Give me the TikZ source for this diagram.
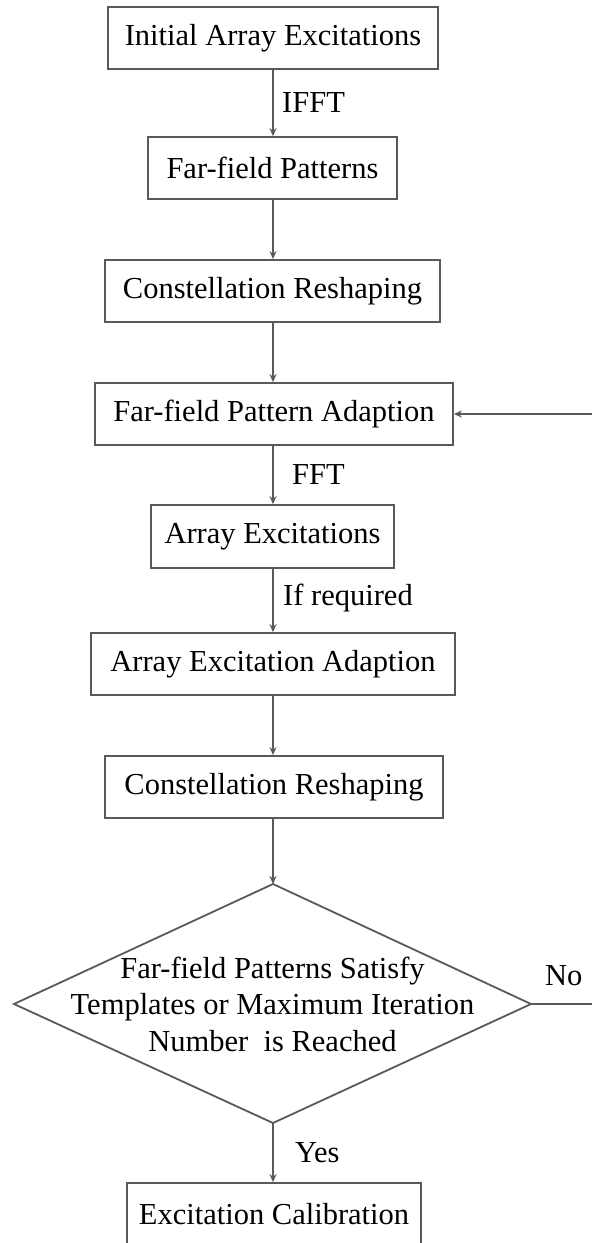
\documentclass[tikz,border=0pt]{standalone}
\usepackage{fontspec}
\setmainfont{Liberation Serif}
\usetikzlibrary{arrows.meta}
\definecolor{ln}{HTML}{595959}
\begin{document}
\begin{tikzpicture}[x=1pt,y=-1pt,
  box/.style={draw=ln,line width=1.8pt,rectangle,minimum height=62pt,inner sep=0pt,font=\fontsize{30.5}{36}\selectfont},
  dtext/.style={inner sep=0pt,align=center,font=\fontsize{30.5}{36.5}\selectfont},
  conn/.style={draw=ln,line width=1.8pt,-{Stealth[length=8pt,width=7pt]}},
  line/.style={draw=ln,line width=1.8pt,line join=miter},
  lbl/.style={font=\fontsize{30.5}{36}\selectfont,anchor=west,inner sep=0pt}]
\useasboundingbox (0,0) rectangle (592,1243);
\node[box,minimum width=330pt] (b1) at (273,38) {Initial Array Excitations};
\node[box,minimum width=249pt] (b2) at (272.5,168) {Far-field Patterns};
\node[box,minimum width=335pt] (b3) at (272.5,291) {Constellation Reshaping};
\node[box,minimum width=358pt] (b4) at (274,414) {Far-field Pattern Adaption};
\node[box,minimum width=243pt,minimum height=63pt] (b5) at (272.5,536.5) {Array Excitations};
\node[box,minimum width=364pt] (b6) at (273,664) {Array Excitation Adaption};
\node[box,minimum width=338pt] (b7) at (274,787) {Constellation Reshaping};
\coordinate (dt) at (273,884);
\coordinate (dl) at (14,1004);
\coordinate (db) at (273,1123);
\coordinate (dr) at (531,1004);
\draw[line] (dt) -- (dr) -- (db) -- (dl) -- cycle;
\node[dtext] (d) at (272.5,1004) {Far-field Patterns Satisfy\\Templates or Maximum Iteration\\Number\ \ is Reached};
\node[box,minimum width=294pt] (b8) at (274,1214) {Excitation Calibration};
\coordinate (r1) at (598,1004);
\coordinate (r2) at (598,414);
\draw[conn] (b1.south -| 273,0) -- (b2.north -| 273,0);
\draw[conn] (b2.south -| 273,0) -- (b3.north -| 273,0);
\draw[conn] (b3.south -| 273,0) -- (b4.north -| 273,0);
\draw[conn] (b4.south -| 273,0) -- (b5.north -| 273,0);
\draw[conn] (b5.south -| 273,0) -- (b6.north -| 273,0);
\draw[conn] (b6.south -| 273,0) -- (b7.north -| 273,0);
\draw[conn] (b7.south -| 273,0) -- (dt);
\draw[conn] (db) -- (b8.north -| db);
\draw[conn] (dr) -- (r1) -- (r2) -- (b4.east);
\node[lbl] (l1) at (282,103) {IFFT};
\node[lbl] (l2) at (292,475) {FFT};
\node[lbl] (l3) at (283,598) {If required};
\node[lbl] (l4) at (295,1153) {Yes};
\node[lbl] (l5) at (545,976) {No};
\end{tikzpicture}
\end{document}
